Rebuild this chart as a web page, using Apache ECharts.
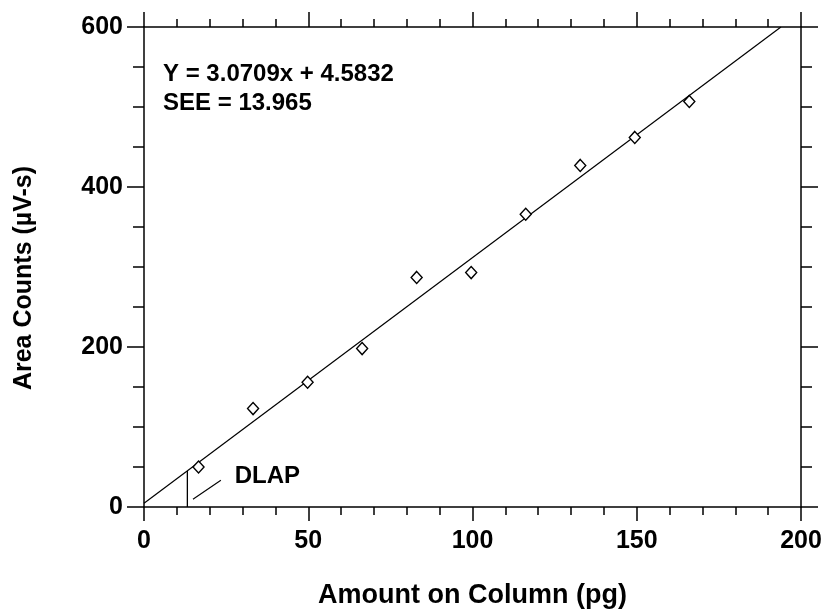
<!DOCTYPE html>
<html>
<head>
<meta charset="utf-8">
<script src="https://cdn.jsdelivr.net/npm/echarts@6/dist/echarts.min.js"></script>
<style>html,body{margin:0;padding:0;background:#fff}#c{width:827px;height:615px}</style>
</head>
<body>
<div id="c"></div>
<script>
// Data
const amounts = [16.6, 33.2, 49.8, 66.4, 83.0, 99.6, 116.2, 132.8, 149.4, 166.0];
const areaCounts = [50, 123, 156, 198, 287, 293, 366, 427, 462, 507];
const slope = 3.0709;
const intercept = 4.5832;
const see = 13.965;
const dlapX = 13.2;
const dlapLeader = [[14.9, 9.6], [23.4, 33.4]];
const dlapLabelAt = [27.6, 38.4];
const xTicks = [0, 50, 100, 150, 200];
const yTicks = [0, 200, 400, 600];

const xMin = 0, xMax = 200, yMin = 0, yMax = 600;
const xEnd = Math.min(xMax, (yMax - intercept) / slope);
const fitLine = [[xMin, slope * xMin + intercept], [xEnd, slope * xEnd + intercept]];
const dlapLine = [[dlapX, 0], [dlapX, slope * dlapX + intercept]];

const FONT = '"Liberation Sans", Arial, sans-serif';
const lineStyle = { color: '#000', width: 1.5 };

function xAxisDef(pos, show) {
  return {
    type: 'value', position: pos, min: xMin, max: xMax, interval: 50,
    axisLine: { show: true, onZero: false, lineStyle },
    axisTick: { show: true, inside: false, length: pos === 'bottom' ? 14 : 15, lineStyle },
    minorTick: { show: true, splitNumber: 5, length: 8, lineStyle },
    splitLine: { show: false }, minorSplitLine: { show: false },
    axisLabel: { show: show, margin: 22, color: '#000', fontFamily: FONT, fontWeight: 'bold', fontSize: 25,
      formatter: v => xTicks.includes(v) ? String(v) : '' },
    name: show ? 'Amount on Column (pg)' : '', nameLocation: 'middle', nameGap: 89,
    nameTextStyle: { color: '#000', fontFamily: FONT, fontWeight: 'bold', fontSize: 27, verticalAlign: 'middle' }
  };
}
function yAxisDef(pos, show) {
  return {
    type: 'value', position: pos, min: yMin, max: yMax, interval: 200,
    axisLine: { show: true, onZero: false, lineStyle },
    axisTick: { show: true, inside: false, length: 17, lineStyle },
    minorTick: { show: true, splitNumber: 4, length: 11, lineStyle },
    splitLine: { show: false }, minorSplitLine: { show: false },
    axisLabel: { show: show, margin: 21, color: '#000', fontFamily: FONT, fontWeight: 'bold', fontSize: 25,
      formatter: v => yTicks.includes(v) ? String(v) : '' },
    name: show ? 'Area Counts (µV-s)' : '', nameLocation: 'middle', nameGap: 120, nameRotate: 90,
    nameTextStyle: { color: '#000', fontFamily: FONT, fontWeight: 'bold', fontSize: 25, verticalAlign: 'middle', padding: [0, 22, 0, 0] }
  };
}

const chart = echarts.init(document.getElementById('c'), null, { renderer: 'canvas' });
chart.setOption({
  animation: false,
  backgroundColor: '#fff',
  grid: { left: 144, right: 26, top: 27, bottom: 108, containLabel: false },
  xAxis: [xAxisDef('bottom', true), xAxisDef('top', false)],
  yAxis: [yAxisDef('left', true), yAxisDef('right', false)],
  series: [
    { type: 'line', data: fitLine, symbol: 'none', lineStyle: { color: '#000', width: 1.2 }, z: 2, silent: true },
    { type: 'line', data: dlapLine, symbol: 'none', lineStyle: { color: '#000', width: 1.3 }, z: 2, silent: true },
    { type: 'line', data: dlapLeader, symbol: 'none', lineStyle: { color: '#000', width: 1.1 }, z: 2, silent: true },
    { type: 'scatter', data: amounts.map((x, i) => [x, areaCounts[i]]), symbol: 'diamond', symbolSize: [11, 12],
      itemStyle: { color: '#fff', borderColor: '#000', borderWidth: 1.4, opacity: 1 }, z: 3, silent: true },
    { type: 'scatter', data: [dlapLabelAt], symbolSize: 0, silent: true,
      itemStyle: { opacity: 1 },
      label: { show: true, position: 'right', distance: 0, formatter: 'DLAP', color: '#000', opacity: 1,
        fontFamily: FONT, fontWeight: 'bold', fontSize: 24, verticalAlign: 'middle' } }
  ],
  graphic: [{
    type: 'text', left: 163, top: 60, z: 10,
    style: { text: 'Y = ' + slope.toFixed(4) + 'x + ' + intercept.toFixed(4) + '\nSEE = ' + see.toFixed(3),
      fill: '#000', font: 'bold 24px ' + FONT, lineHeight: 29 }
  }]
});
</script>
</body>
</html>
